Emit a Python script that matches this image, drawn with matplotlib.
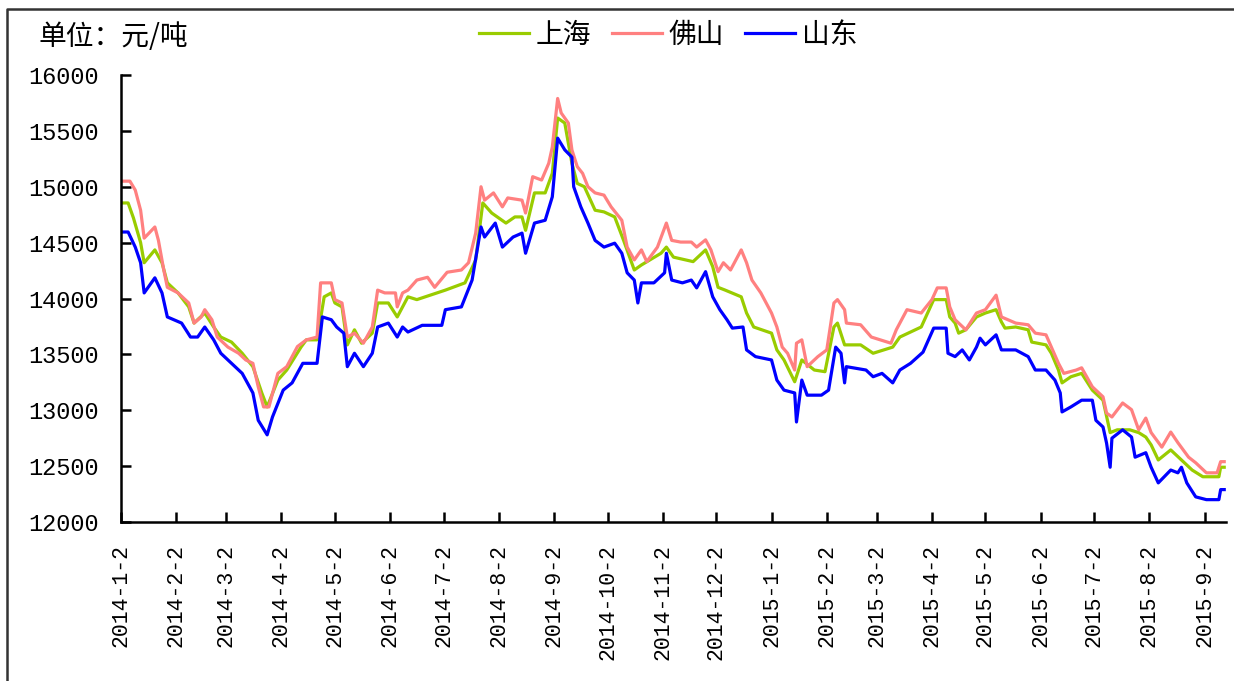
import pandas as pd
import numpy as np
import matplotlib.pyplot as plt
from matplotlib.lines import Line2D

# 上海 (green)
sh_dates = ['2014-01-02', '2014-01-06', '2014-01-09', '2014-01-13', '2014-01-15', '2014-01-21', '2014-01-25',
            '2014-01-28', '2014-02-03', '2014-02-09', '2014-02-12', '2014-02-18', '2014-02-23', '2014-02-27',
            '2014-03-05', '2014-03-11', '2014-03-17', '2014-03-22', '2014-03-25', '2014-03-31', '2014-04-05',
            '2014-04-13', '2014-04-16', '2014-04-22', '2014-04-26', '2014-04-30', '2014-05-02', '2014-05-06',
            '2014-05-09', '2014-05-13', '2014-05-17', '2014-05-23', '2014-05-26', '2014-06-01', '2014-06-06',
            '2014-06-09', '2014-06-12', '2014-06-17', '2014-07-03', '2014-07-14', '2014-07-20', '2014-07-24',
            '2014-07-29', '2014-08-06', '2014-08-11', '2014-08-15', '2014-08-17', '2014-08-22', '2014-08-28',
            '2014-09-01', '2014-09-04', '2014-09-08', '2014-09-12', '2014-09-15', '2014-09-19', '2014-09-25',
            '2014-09-30', '2014-10-06', '2014-10-11', '2014-10-17', '2014-10-21', '2014-11-01', '2014-11-04',
            '2014-11-08', '2014-11-19', '2014-11-26', '2014-11-30', '2014-12-03', '2014-12-07', '2014-12-16',
            '2014-12-19', '2014-12-23', '2015-01-02', '2015-01-05', '2015-01-09', '2015-01-15', '2015-01-19',
            '2015-01-26', '2015-02-01', '2015-02-06', '2015-02-08', '2015-02-12', '2015-02-21', '2015-02-28',
            '2015-03-11', '2015-03-15', '2015-03-27', '2015-04-03', '2015-04-10', '2015-04-12', '2015-04-15',
            '2015-04-17', '2015-04-21', '2015-04-27', '2015-05-02', '2015-05-08', '2015-05-11', '2015-05-13',
            '2015-05-19', '2015-05-26', '2015-05-28', '2015-06-05', '2015-06-08', '2015-06-12', '2015-06-14',
            '2015-06-19', '2015-06-25', '2015-07-01', '2015-07-07', '2015-07-11', '2015-07-15', '2015-07-22',
            '2015-07-27', '2015-07-31', '2015-08-03', '2015-08-07', '2015-08-14', '2015-08-20', '2015-08-26',
            '2015-09-01', '2015-09-10', '2015-09-11', '2015-09-13']
sh_values = [14855, 14855, 14720, 14500, 14320, 14435, 14320,
             14140, 14050, 13925, 13780, 13870, 13745, 13655,
             13610, 13510, 13390, 13155, 13030, 13270, 13360,
             13565, 13630, 13630, 14015, 14050, 13960, 13925,
             13585, 13720, 13600, 13690, 13960, 13960, 13835,
             13925, 14015, 13990, 14075, 14140, 14345, 14855,
             14765, 14675, 14730, 14730, 14610, 14945, 14945,
             15120, 15615, 15570, 15210, 15030, 15000, 14790,
             14775, 14730, 14520, 14255, 14300, 14405, 14460,
             14370, 14330, 14435, 14285, 14100, 14075, 14015,
             13870, 13745, 13690, 13540, 13450, 13255, 13450,
             13360, 13345, 13745, 13780, 13585, 13585, 13510,
             13565, 13655, 13745, 13990, 13990, 13835, 13780,
             13690, 13720, 13835, 13870, 13900, 13790, 13735,
             13745, 13720, 13610, 13585, 13510, 13360, 13245,
             13300, 13330, 13180, 13090, 12800, 12825, 12825,
             12800, 12760, 12690, 12555, 12645, 12555, 12465,
             12405, 12405, 12490, 12490]

# 佛山 (pink)
fs_dates = ['2014-01-02', '2014-01-07', '2014-01-10', '2014-01-13', '2014-01-15', '2014-01-21', '2014-01-23',
            '2014-01-26', '2014-01-28', '2014-02-03', '2014-02-09', '2014-02-12', '2014-02-16', '2014-02-18',
            '2014-02-22', '2014-02-25', '2014-03-03', '2014-03-09', '2014-03-13', '2014-03-17', '2014-03-20',
            '2014-03-23', '2014-03-26', '2014-03-31', '2014-04-05', '2014-04-11', '2014-04-16', '2014-04-22',
            '2014-04-24', '2014-04-30', '2014-05-02', '2014-05-06', '2014-05-09', '2014-05-13', '2014-05-18',
            '2014-05-23', '2014-05-26', '2014-05-30', '2014-06-05', '2014-06-06', '2014-06-09', '2014-06-12',
            '2014-06-17', '2014-06-23', '2014-06-27', '2014-07-04', '2014-07-12', '2014-07-16', '2014-07-20',
            '2014-07-23', '2014-07-25', '2014-07-30', '2014-08-04', '2014-08-07', '2014-08-15', '2014-08-17',
            '2014-08-21', '2014-08-26', '2014-08-30', '2014-09-01', '2014-09-04', '2014-09-06', '2014-09-10',
            '2014-09-12', '2014-09-15', '2014-09-18', '2014-09-21', '2014-09-25', '2014-09-30', '2014-10-04',
            '2014-10-10', '2014-10-13', '2014-10-17', '2014-10-21', '2014-10-24', '2014-10-30', '2014-11-04',
            '2014-11-07', '2014-11-12', '2014-11-18', '2014-11-21', '2014-11-26', '2014-11-29', '2014-12-03',
            '2014-12-06', '2014-12-10', '2014-12-16', '2014-12-19', '2014-12-22', '2014-12-27', '2015-01-02',
            '2015-01-05', '2015-01-08', '2015-01-11', '2015-01-15', '2015-01-16', '2015-01-19', '2015-01-22',
            '2015-01-28', '2015-02-02', '2015-02-06', '2015-02-08', '2015-02-12', '2015-02-13', '2015-02-21',
            '2015-02-27', '2015-03-10', '2015-03-13', '2015-03-19', '2015-03-27', '2015-04-02', '2015-04-05',
            '2015-04-10', '2015-04-12', '2015-04-15', '2015-04-21', '2015-04-27', '2015-05-02', '2015-05-08',
            '2015-05-11', '2015-05-19', '2015-05-26', '2015-05-30', '2015-06-05', '2015-06-08', '2015-06-12',
            '2015-06-15', '2015-06-22', '2015-06-25', '2015-07-01', '2015-07-07', '2015-07-09', '2015-07-12',
            '2015-07-18', '2015-07-23', '2015-07-27', '2015-07-31', '2015-08-03', '2015-08-09', '2015-08-14',
            '2015-08-18', '2015-08-24', '2015-08-28', '2015-09-03', '2015-09-09', '2015-09-11', '2015-09-13']
fs_values = [15050, 15050, 14970, 14790, 14540, 14640, 14520,
             14255, 14100, 14050, 13960, 13780, 13835, 13900,
             13810, 13655, 13565, 13510, 13450, 13420, 13210,
             13030, 13030, 13330, 13390, 13570, 13630, 13655,
             14140, 14140, 13990, 13960, 13655, 13690, 13600,
             13745, 14075, 14050, 14050, 13925, 14050, 14075,
             14165, 14190, 14100, 14235, 14255, 14320, 14585,
             15000, 14880, 14945, 14820, 14900, 14880, 14765,
             15090, 15060, 15210, 15355, 15790, 15660, 15570,
             15330, 15180, 15120, 15000, 14945, 14925, 14820,
             14700, 14460, 14345, 14435, 14330, 14460, 14675,
             14520, 14505, 14505, 14460, 14525, 14435, 14240,
             14320, 14255, 14435, 14320, 14165, 14050, 13870,
             13745, 13565, 13510, 13360, 13600, 13630, 13390,
             13480, 13540, 13960, 13990, 13900, 13780, 13765,
             13655, 13600, 13720, 13900, 13870, 13990, 14095,
             14095, 13925, 13810, 13720, 13870, 13900, 14030,
             13835, 13780, 13765, 13690, 13675, 13565, 13420,
             13330, 13360, 13380, 13210, 13120, 12975, 12940,
             13065, 13005, 12825, 12930, 12800, 12670, 12805,
             12710, 12580, 12530, 12440, 12440, 12540, 12540]

# 山东 (blue)
sd_dates = ['2014-01-02', '2014-01-06', '2014-01-10', '2014-01-13', '2014-01-15', '2014-01-21', '2014-01-25',
            '2014-01-28', '2014-02-05', '2014-02-10', '2014-02-14', '2014-02-18', '2014-02-23', '2014-02-27',
            '2014-03-05', '2014-03-11', '2014-03-17', '2014-03-20', '2014-03-25', '2014-03-28', '2014-04-03',
            '2014-04-08', '2014-04-14', '2014-04-22', '2014-04-25', '2014-04-30', '2014-05-03', '2014-05-07',
            '2014-05-09', '2014-05-13', '2014-05-18', '2014-05-23', '2014-05-26', '2014-06-01', '2014-06-06',
            '2014-06-09', '2014-06-12', '2014-06-20', '2014-07-01', '2014-07-03', '2014-07-12', '2014-07-18',
            '2014-07-23', '2014-07-25', '2014-07-31', '2014-08-04', '2014-08-10', '2014-08-15', '2014-08-17',
            '2014-08-22', '2014-08-28', '2014-09-01', '2014-09-04', '2014-09-08', '2014-09-12', '2014-09-13',
            '2014-09-17', '2014-09-21', '2014-09-25', '2014-09-30', '2014-10-06', '2014-10-10', '2014-10-13',
            '2014-10-17', '2014-10-19', '2014-10-21', '2014-10-28', '2014-11-03', '2014-11-04', '2014-11-07',
            '2014-11-13', '2014-11-18', '2014-11-21', '2014-11-26', '2014-11-30', '2014-12-04', '2014-12-08',
            '2014-12-11', '2014-12-17', '2014-12-19', '2014-12-24', '2015-01-02', '2015-01-05', '2015-01-09',
            '2015-01-15', '2015-01-16', '2015-01-19', '2015-01-22', '2015-01-30', '2015-02-03', '2015-02-07',
            '2015-02-10', '2015-02-12', '2015-02-13', '2015-02-24', '2015-02-28', '2015-03-05', '2015-03-11',
            '2015-03-15', '2015-03-21', '2015-03-28', '2015-04-03', '2015-04-10', '2015-04-11', '2015-04-15',
            '2015-04-19', '2015-04-23', '2015-04-27', '2015-04-29', '2015-05-02', '2015-05-08', '2015-05-11',
            '2015-05-19', '2015-05-26', '2015-05-30', '2015-06-05', '2015-06-10', '2015-06-13', '2015-06-14',
            '2015-06-19', '2015-06-25', '2015-07-01', '2015-07-03', '2015-07-07', '2015-07-09', '2015-07-11',
            '2015-07-12', '2015-07-18', '2015-07-23', '2015-07-25', '2015-07-31', '2015-08-03', '2015-08-07',
            '2015-08-14', '2015-08-18', '2015-08-20', '2015-08-23', '2015-08-28', '2015-09-03', '2015-09-10',
            '2015-09-11', '2015-09-13']
sd_values = [14595, 14595, 14460, 14320, 14050, 14185, 14050,
             13835, 13780, 13655, 13655, 13745, 13630, 13510,
             13420, 13330, 13155, 12910, 12780, 12940, 13180,
             13245, 13420, 13420, 13835, 13810, 13745, 13690,
             13390, 13510, 13390, 13510, 13745, 13780, 13655,
             13745, 13700, 13760, 13760, 13900, 13925, 14165,
             14640, 14550, 14675, 14460, 14550, 14585, 14405,
             14675, 14700, 14910, 15435, 15330, 15265, 15000,
             14820, 14675, 14520, 14460, 14495, 14405, 14230,
             14165, 13960, 14140, 14140, 14230, 14405, 14165,
             14140, 14165, 14095, 14240, 14015, 13900, 13810,
             13735, 13745, 13540, 13480, 13450, 13270, 13180,
             13155, 12895, 13270, 13135, 13135, 13180, 13565,
             13510, 13245, 13390, 13360, 13300, 13330, 13245,
             13360, 13420, 13520, 13735, 13735, 13510, 13480,
             13540, 13450, 13565, 13645, 13585, 13675, 13540,
             13540, 13480, 13360, 13360, 13270, 13155, 12985,
             13030, 13090, 13090, 12910, 12850, 12705, 12490,
             12750, 12825, 12760, 12580, 12620, 12490, 12350,
             12465, 12440, 12490, 12350, 12225, 12200, 12200,
             12290, 12290]

series = [('上海', sh_dates, sh_values, '#99CC00'),
          ('佛山', fs_dates, fs_values, '#FF8080'),
          ('山东', sd_dates, sd_values, '#0000FF')]

tick_dates = pd.date_range('2014-01-01', '2015-09-01', freq='MS') + pd.Timedelta(days=1)
tick_labels = [f'{d.year}-{d.month}-{d.day}' for d in tick_dates]
y_ticks = np.arange(12000, 16001, 500)

cjk = ['Noto Sans CJK SC', 'DejaVu Sans']
num_font = 'Liberation Mono'

fig = plt.figure(figsize=(12.34, 6.81), dpi=100)
ax = fig.add_axes([121 / 1234, 1 - 522 / 681, (1226 - 121) / 1234, (522 - 75) / 681])

for name, dates, values, color in series:
    ax.plot(pd.to_datetime(dates), values, color=color, lw=2.3, label=name)

ax.set_xlim(pd.Timestamp('2014-01-02'), pd.Timestamp('2015-09-14'))
ax.set_ylim(12000, 16000)
ax.set_xticks(tick_dates)
ax.set_xticklabels(tick_labels, rotation=90, fontsize=15.5, family=num_font)
ax.set_yticks(y_ticks)
ax.set_yticklabels([str(v) for v in y_ticks], fontsize=17, family=num_font)

for s in ['top', 'right']:
    ax.spines[s].set_visible(False)
for s in ['left', 'bottom']:
    ax.spines[s].set_linewidth(1.8)
ax.tick_params(direction='in', length=7, width=1.8, pad=16)

fig.text(38 / 1234, 1 - 37 / 681, '单位：元/吨', fontsize=20, family=cjk, va='center', ha='left')

fig.legend(loc='center', bbox_to_anchor=(668 / 1234, 1 - 35 / 681), ncol=3, frameon=False,
           prop={'family': cjk, 'size': 20}, handlelength=1.8, handletextpad=0.25, columnspacing=0.75)

# outer frame (top and left edges visible in the original)
fig.add_artist(Line2D([7 / 1234, 7 / 1234, 1.0], [0.0, 1 - 9 / 681, 1 - 9 / 681],
                      transform=fig.transFigure, color='#333333', lw=1.8))

fig.savefig('out.png', dpi=100)
